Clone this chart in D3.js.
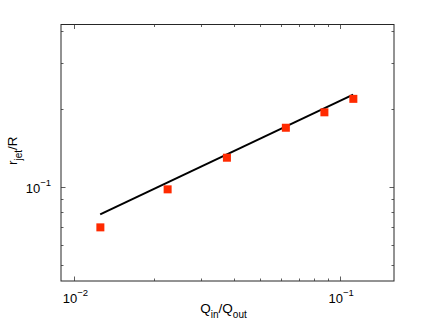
<!DOCTYPE html>
<html>
<head>
<meta charset="utf-8">
<script src="https://cdn.jsdelivr.net/npm/d3@7"></script>
<style>
  body { margin: 0; background: #fff; }
  text { font-family: "Liberation Sans", Arial, Helvetica, sans-serif; fill: #000; }
</style>
</head>
<body>
<script>
var width = 436,
    height = 328;

// measured points
var qRatio = [0.01252, 0.02243, 0.0375, 0.0625, 0.0873, 0.1122];
var rJet   = [0.0699, 0.098, 0.1298, 0.1694, 0.1943, 0.219];

// fitted power law, end points
var fitX = [0.0125, 0.112];
var fitY = [0.0785, 0.2272];

var xMajor = [0.01, 0.1];
var xMajorLabels = ["-2", "-1"];
var yMajor = [0.1];
var yMajorLabels = ["-1"];
var xMinor = [0.02, 0.03, 0.04, 0.05, 0.06, 0.07, 0.08, 0.09];
var yMinor = [0.05, 0.06, 0.07, 0.08, 0.09, 0.2, 0.3, 0.4];

// plot box (note: "top" clashes with window.top)
var boxL = 61, boxR = 394, boxT = 24.5, boxB = 281;

var x = d3.scaleLog().domain([0.0089, 0.1596]).range([boxL, boxR]);
var y = d3.scaleLog().domain([0.0434, 0.424]).range([boxB, boxT]);

var svg = d3.select("body")
  .append("svg")
  .attr("width", width)
  .attr("height", height);

// frame
svg.append("rect")
  .attr("x", boxL).attr("y", boxT)
  .attr("width", boxR - boxL).attr("height", boxB - boxT)
  .attr("fill", "#fff")
  .attr("stroke", "#262626")
  .attr("stroke-width", 1);

function ticksX(vals, len) {
  vals.forEach(function(v) {
    var px = Math.round(x(v)) + 0.5;
    svg.append("line").attr("x1", px).attr("x2", px)
      .attr("y1", boxB).attr("y2", boxB - len)
      .attr("stroke", "#333").attr("stroke-width", 0.8);
    svg.append("line").attr("x1", px).attr("x2", px)
      .attr("y1", boxT).attr("y2", boxT + len)
      .attr("stroke", "#333").attr("stroke-width", 0.8);
  });
}
function ticksY(vals, len) {
  vals.forEach(function(v) {
    var py = Math.round(y(v)) + 0.5;
    svg.append("line").attr("y1", py).attr("y2", py)
      .attr("x1", boxL).attr("x2", boxL + len)
      .attr("stroke", "#333").attr("stroke-width", 0.8);
    svg.append("line").attr("y1", py).attr("y2", py)
      .attr("x1", boxR).attr("x2", boxR - len)
      .attr("stroke", "#333").attr("stroke-width", 0.8);
  });
}
ticksX(xMajor, 4.5);
ticksX(xMinor, 2.5);
ticksY(yMajor, 4.5);
ticksY(yMinor, 2.5);

// tick labels
xMajor.forEach(function(v, i) {
  var t = svg.append("text")
    .attr("x", x(v) + 1)
    .attr("y", 303)
    .attr("text-anchor", "middle")
    .style("font-size", "13px");
  t.append("tspan").text("10");
  t.append("tspan").attr("dy", -7).style("font-size", "9.5px").text("\u2212" + xMajorLabels[i].slice(1));
});
yMajor.forEach(function(v, i) {
  var t = svg.append("text")
    .attr("x", 51)
    .attr("y", y(v) + 6)
    .attr("text-anchor", "end")
    .style("font-size", "13px");
  t.append("tspan").text("10");
  t.append("tspan").attr("dy", -7).style("font-size", "9.5px").text("\u2212" + yMajorLabels[i].slice(1));
});

// axis labels
var xl = svg.append("text")
  .attr("x", (boxL + boxR) / 2 - 4)
  .attr("y", 313)
  .attr("text-anchor", "middle")
  .style("font-size", "13.5px");
xl.append("tspan").text("Q");
xl.append("tspan").attr("dy", 5).style("font-size", "10px").text("in");
xl.append("tspan").attr("dy", -5).text("/Q");
xl.append("tspan").attr("dy", 5).style("font-size", "10px").text("out");

var yl = svg.append("text")
  .attr("transform", "translate(17," + ((boxT + boxB) / 2 - 2) + ") rotate(-90)")
  .attr("text-anchor", "middle")
  .style("font-size", "13.5px");
yl.append("tspan").text("r");
yl.append("tspan").attr("dy", 5).style("font-size", "10px").text("jet");
yl.append("tspan").attr("dy", -5).text("/R");

// fit line
var line = d3.line()
  .x(function(d) { return x(d[0]); })
  .y(function(d) { return y(d[1]); });

svg.append("path")
  .datum(d3.zip(fitX, fitY))
  .attr("d", line)
  .attr("fill", "none")
  .attr("stroke", "#000")
  .attr("stroke-width", 2);

// data squares
var s = 8;
svg.selectAll("rect.pt")
  .data(d3.zip(qRatio, rJet))
  .enter()
  .append("rect")
  .attr("class", "pt")
  .attr("x", function(d) { return x(d[0]) - s / 2; })
  .attr("y", function(d) { return y(d[1]) - s / 2; })
  .attr("width", s)
  .attr("height", s)
  .attr("fill", "#ff2a00");
</script>
</body>
</html>
